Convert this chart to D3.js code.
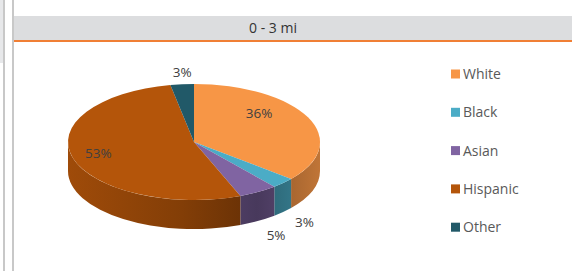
<!DOCTYPE html>
<html>
<head>
<meta charset="utf-8">
<script src="https://cdn.jsdelivr.net/npm/d3@7"></script>
<style>
	body { margin: 0; background: #fff; }
	text { font-family: "Open Sans", sans-serif; }
</style>
</head>
<body>
<div id="root"></div>
<script>
const title = '0 - 3 mi'
const categories = ['White', 'Black', 'Asian', 'Hispanic', 'Other']
const shares = [36, 3, 5, 53, 3]
const colors = ['#F79646', '#4BACC6', '#8064A2', '#B4550A', '#215968']

const C = {
	width: 572,
	height: 271,
	pie: { cx: 194, cy: 142, rx: 126, ry: 58, depth: 29 },
	legend: { x: 451, y: 74, step: 38.3, box: 9 },
}

// label placement: radius factor, angle shift (deg), extra dy
const labelPlace = {
	White: { k: 0.72, rot: -19, dy: 0 },
	Black: { k: 1.24, rot: 0, dy: 0 },
	Asian: { k: 1.28, rot: 0, dy: 0 },
	Hispanic: { k: 0.79, rot: 0, dy: -2 },
	Other: { k: 1.21, rot: 1, dy: 0 },
}

const data = categories.map((c, i) => ({ name: c, value: shares[i], color: colors[i] }))

const svg = d3.select('#root').append('svg')
	.attr('width', C.width)
	.attr('height', C.height)

// -- frame --
svg.append('rect').attr('x', 0).attr('y', 0).attr('width', 3).attr('height', 63).attr('fill', '#e7e8ea')
svg.append('rect').attr('x', 3).attr('y', 0).attr('width', 2).attr('height', C.height).attr('fill', '#c8c8c8')
svg.append('rect').attr('x', 12).attr('y', 0).attr('width', 2).attr('height', C.height).attr('fill', '#c8c8c8')
svg.append('rect').attr('x', 14).attr('y', 16).attr('width', C.width - 14).attr('height', 24).attr('fill', '#dcdddf')
svg.append('rect').attr('x', 14).attr('y', 40).attr('width', C.width - 14).attr('height', 2).attr('fill', '#f07f35')

svg.append('text')
	.attr('x', 273)
	.attr('y', 33)
	.attr('text-anchor', 'middle')
	.attr('font-size', 14)
	.attr('fill', '#333')
	.text(title)

// -- 3d pie --
const P = C.pie
const arcs = d3.pie().sort(null).value(d => d.value)(data)

function pt(a, dz) {
	return [P.cx + P.rx * Math.sin(a), P.cy - P.ry * Math.cos(a) + (dz || 0)]
}

const defs = svg.append('defs')
data.forEach((d, i) => {
	const c = d3.color(d.color)
	const g = defs.append('linearGradient')
		.attr('id', 'side' + i)
		.attr('gradientUnits', 'userSpaceOnUse')
		.attr('x1', P.cx - P.rx).attr('x2', P.cx + P.rx)
		.attr('y1', 0).attr('y2', 0)
	g.append('stop').attr('offset', 0).attr('stop-color', c.darker(0.35))
	g.append('stop').attr('offset', 0.45).attr('stop-color', c.darker(0.9))
	g.append('stop').attr('offset', 0.75).attr('stop-color', c.darker(1.6))
	g.append('stop').attr('offset', 1).attr('stop-color', c.darker(0.7))
})

const pieG = svg.append('g')

// sides (front half only)
arcs.forEach((a, i) => {
	const s = Math.max(a.startAngle, Math.PI / 2)
	const e = Math.min(a.endAngle, Math.PI * 1.5)
	if (e <= s) return
	const p0 = pt(s), p1 = pt(e), p2 = pt(e, P.depth), p3 = pt(s, P.depth)
	const large = e - s > Math.PI ? 1 : 0
	pieG.append('path')
		.attr('d', `M${p0}A${P.rx},${P.ry} 0 ${large} 1 ${p1}L${p2}A${P.rx},${P.ry} 0 ${large} 0 ${p3}Z`)
		.attr('fill', `url(#side${i})`)
})

// tops
arcs.forEach(a => {
	const p0 = pt(a.startAngle), p1 = pt(a.endAngle)
	const large = a.endAngle - a.startAngle > Math.PI ? 1 : 0
	pieG.append('path')
		.attr('d', `M${P.cx},${P.cy}L${p0}A${P.rx},${P.ry} 0 ${large} 1 ${p1}Z`)
		.attr('fill', a.data.color)
})

// labels
arcs.forEach(a => {
	const lp = labelPlace[a.data.name]
	const mid = (a.startAngle + a.endAngle) / 2 + lp.rot * Math.PI / 180
	const front = lp.k > 1 && Math.cos(mid) < 0 ? P.depth : 0
	const x = P.cx + P.rx * lp.k * Math.sin(mid)
	const y = P.cy - P.ry * lp.k * Math.cos(mid) + front + lp.dy
	svg.append('text')
		.attr('x', x)
		.attr('y', y)
		.attr('dy', '0.35em')
		.attr('text-anchor', 'middle')
		.attr('font-size', 13.5)
		.attr('fill', '#404040')
		.text(d3.format('.0f')(a.data.value) + '%')
})

// -- legend --
const legend = svg.append('g')
	.selectAll('g')
	.data(data)
	.enter()
	.append('g')
	.attr('transform', (d, i) => `translate(${C.legend.x},${C.legend.y + i * C.legend.step})`)

legend.append('rect')
	.attr('x', 0)
	.attr('y', -C.legend.box / 2)
	.attr('width', C.legend.box)
	.attr('height', C.legend.box)
	.attr('fill', d => d.color)

legend.append('text')
	.attr('x', 12)
	.attr('dy', '0.36em')
	.attr('font-size', 14)
	.attr('fill', '#595959')
	.text(d => d.name)
</script>
</body>
</html>
